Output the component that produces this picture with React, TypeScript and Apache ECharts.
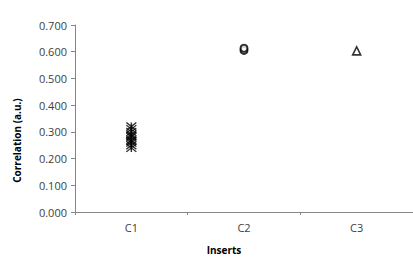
import React, { useEffect, useRef } from "react";
import * as echarts from "echarts";

const categories = ["C1", "C2", "C3"];
const c1Values = [0.24, 0.25, 0.26, 0.265, 0.27, 0.28, 0.285, 0.29, 0.30, 0.31, 0.32];
const c2Values = [0.605, 0.613];
const c3Values = [0.603];
const yTicks = { min: 0, max: 0.7, interval: 0.1 };

const star = "path://M0,0L10,10M10,0L0,10M5,0L5,10";

export default function App() {
  const ref = useRef<HTMLDivElement>(null);
  useEffect(() => {
    const chart = echarts.init(ref.current!, null, { renderer: "svg" });
    const font = "'Open Sans', 'Liberation Sans', sans-serif";
    chart.setOption({
      animation: false,
      backgroundColor: "#ffffff",
      grid: { left: 75, top: 25, right: 0, bottom: 48 },
      xAxis: {
        type: "category",
        data: categories,
        name: "Inserts",
        nameLocation: "middle",
        nameGap: 33,
        nameTextStyle: {
          fontFamily: font,
          fontWeight: "bold",
          fontSize: 10,
          color: "#000",
          padding: [0, 40, 0, 0],
        },
        axisLine: { lineStyle: { color: "#868686", width: 1 } },
        axisTick: { show: true, length: 3, lineStyle: { color: "#868686" } },
        axisLabel: { fontFamily: font, fontSize: 11, color: "#404040", margin: 10 },
        splitLine: { show: false },
      },
      yAxis: {
        type: "value",
        min: yTicks.min,
        max: yTicks.max,
        interval: yTicks.interval,
        name: "Correlation (a.u.)",
        nameLocation: "middle",
        nameGap: 53,
        nameRotate: 90,
        nameTextStyle: {
          fontFamily: font,
          fontWeight: "bold",
          fontSize: 10,
          color: "#000",
          padding: [0, 44, 0, 0],
        },
        axisLine: { show: true, lineStyle: { color: "#868686", width: 1 } },
        axisTick: { show: true, length: 4, lineStyle: { color: "#868686" } },
        axisLabel: {
          fontFamily: font,
          fontSize: 11,
          color: "#404040",
          margin: 8,
          formatter: (v: number) => v.toFixed(3),
        },
        splitLine: { show: false },
      },
      series: [
        {
          type: "scatter",
          data: c1Values.map((v) => ["C1", v]),
          symbol: star,
          symbolSize: [10, 8],
          symbolKeepAspect: false,
          itemStyle: { color: "rgba(0,0,0,0)", borderColor: "#000", borderWidth: 1.3 },
        },
        {
          type: "scatter",
          data: c2Values.map((v) => ["C2", v]),
          symbol: "circle",
          symbolSize: [7, 7],
          itemStyle: { color: "#ffffff", borderColor: "#000", borderWidth: 2 },
        },
        {
          type: "scatter",
          data: c3Values.map((v) => ["C3", v]),
          symbol: "triangle",
          symbolSize: [8, 8],
          itemStyle: { color: "#ffffff", borderColor: "#000", borderWidth: 1.6 },
        },
      ],
    });
    return () => chart.dispose();
  }, []);
  return (
    <div
      ref={ref}
      style={{ position: "fixed", left: 0, top: 0, width: 413, height: 260 }}
    />
  );
}
